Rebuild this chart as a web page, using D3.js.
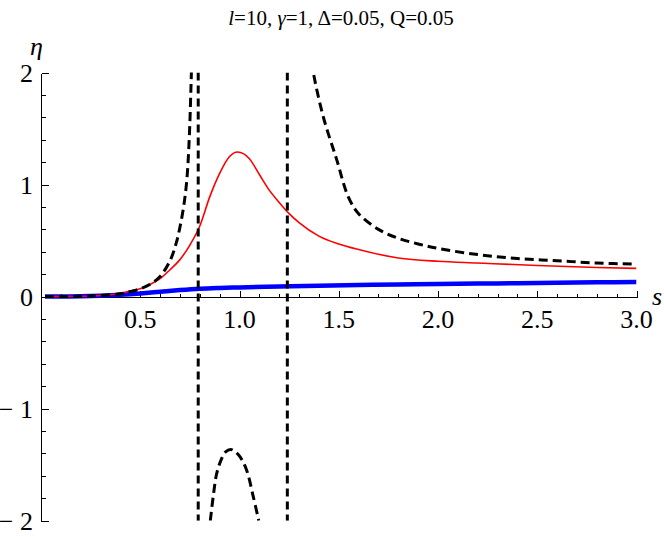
<!DOCTYPE html>
<html>
<head>
<meta charset="utf-8">
<script src="https://cdn.jsdelivr.net/npm/d3@7"></script>
<style>
  body { margin: 0; background: #fff; }
</style>
</head>
<body>
<svg id="plot" width="664" height="537"></svg>
<script>
// values
const blueS   = [0.02, 0.1, 0.2, 0.3, 0.4, 0.5, 0.6, 0.7, 0.8, 0.9, 1.0, 1.2, 1.4, 1.6, 1.8, 2.0, 2.2, 2.4, 2.6, 2.8, 3.0];
const blueEta = [0, 0.001, 0.003, 0.008, 0.016, 0.028, 0.043, 0.058, 0.07, 0.077, 0.082, 0.09, 0.097, 0.103, 0.108, 0.112, 0.116, 0.12, 0.123, 0.127, 0.13];

const redS   = [0.02, 0.2, 0.3, 0.4, 0.45, 0.5, 0.55, 0.6, 0.65, 0.7, 0.75, 0.8, 0.85, 0.9, 0.95, 0.99, 1.05, 1.1, 1.15, 1.2, 1.25, 1.3, 1.4, 1.5, 1.6, 1.8, 2.0, 2.2, 2.5, 2.8, 3.0];
const redEta = [0, 0.003, 0.01, 0.03, 0.05, 0.07, 0.11, 0.16, 0.24, 0.33, 0.46, 0.63, 0.89, 1.10, 1.25, 1.29, 1.23, 1.09, 0.95, 0.84, 0.74, 0.66, 0.54, 0.47, 0.42, 0.345, 0.315, 0.30, 0.278, 0.26, 0.252];

// dashed curve, three visible branches
const leftS   = [0.02, 0.2, 0.3, 0.4, 0.45, 0.5, 0.55, 0.6, 0.65, 0.68, 0.7, 0.72, 0.735, 0.747, 0.756, 0.762];
const leftEta = [0, 0.003, 0.01, 0.025, 0.045, 0.07, 0.11, 0.18, 0.32, 0.47, 0.62, 0.82, 1.05, 1.42, 1.9, 2.3];
const midS    = [0.853, 0.87, 0.885, 0.91, 0.93, 0.955, 0.975, 1.003, 1.036, 1.07, 1.097];
const midEta  = [-2.0, -1.75, -1.58, -1.445, -1.385, -1.364, -1.38, -1.43, -1.55, -1.79, -2.0];
const rightS   = [1.365, 1.372, 1.422, 1.49, 1.548, 1.6, 1.7, 1.8, 1.9, 2.0, 2.2, 2.4, 2.6, 2.8, 3.0];
const rightEta = [2.1, 2.0, 1.605, 1.22, 0.89, 0.74, 0.60, 0.52, 0.47, 0.43, 0.375, 0.34, 0.32, 0.30, 0.29];

const asymS = [0.792, 1.241];

const xMajor = [0.5, 1.0, 1.5, 2.0, 2.5, 3.0];
const yMajor = [-2, -1, 0, 1, 2];

const serif = '"Liberation Serif", "Times New Roman", serif';

const svg = d3.select("#plot");
const x = d3.scaleLinear().domain([0, 3]).range([41, 636.5]);
const y = d3.scaleLinear().domain([-2, 2]).range([520.7, 72.5]);
const px = v => Math.round(v) + 0.5;   // snap 1px lines to the pixel grid

svg.append("defs").append("clipPath").attr("id", "clip")
   .append("rect")
   .attr("x", x(0)).attr("y", y(2))
   .attr("width", x(3) - x(0)).attr("height", y(-2) - y(2));

// title
svg.append("text")
   .attr("x", 341).attr("y", 25)
   .attr("text-anchor", "middle")
   .style("font-family", serif)
   .style("font-size", "21px")
   .html('<tspan font-style="italic">l</tspan>=10, <tspan font-style="italic">γ</tspan>=1, Δ=0.05, Q=0.05');

// axes
const axes = svg.append("g").attr("shape-rendering", "crispEdges");
axes.append("line").attr("x1", px(x(0))).attr("x2", px(x(3))).attr("y1", px(y(0))).attr("y2", px(y(0)))
    .attr("stroke", "#000").attr("stroke-width", 1);
axes.append("line").attr("x1", px(x(0))).attr("x2", px(x(0))).attr("y1", px(y(2))).attr("y2", px(y(-2)))
    .attr("stroke", "#000").attr("stroke-width", 1);

const xMinor = d3.range(1, 31).map(d => d / 10).filter(d => Math.abs(d * 2 - Math.round(d * 2)) > 1e-6);
const yMinor = d3.range(-10, 11).map(d => d / 5).filter(d => Math.abs(d - Math.round(d)) > 1e-6);

const xTicks = xMinor.map(d => [d, 4]).concat(xMajor.map(d => [d, 7]));
const yTicks = yMinor.map(d => [d, 4]).concat(yMajor.map(d => [d, 7]));

axes.selectAll("line.xtick").data(xTicks).join("line")
    .attr("class", "xtick")
    .attr("x1", d => px(x(d[0]))).attr("x2", d => px(x(d[0])))
    .attr("y1", px(y(0))).attr("y2", d => px(y(0)) - d[1])
    .attr("stroke", "#000").attr("stroke-width", 1);

axes.selectAll("line.ytick").data(yTicks).join("line")
    .attr("class", "ytick")
    .attr("x1", px(x(0))).attr("x2", d => px(x(0)) + d[1])
    .attr("y1", d => px(y(d[0]))).attr("y2", d => px(y(d[0])))
    .attr("stroke", "#000").attr("stroke-width", 1);

// tick labels
svg.selectAll("text.xlab").data(xMajor).join("text")
   .attr("class", "xlab")
   .attr("x", d => x(d)).attr("y", y(0) + 31)
   .attr("text-anchor", "middle")
   .style("font-family", serif)
   .style("font-size", "26px")
   .text(d => d.toFixed(1));

svg.selectAll("text.ylab").data(yMajor).join("text")
   .attr("class", "ylab")
   .attr("x", 33).attr("y", d => y(d) + 9)
   .attr("text-anchor", "end")
   .style("font-family", serif)
   .style("font-size", "26px")
   .text(d => d < 0 ? "\u2212 " + (-d) : d);

// axis labels
svg.append("text").attr("x", 30).attr("y", 55).style("font-family", serif)
   .style("font-size", "26px").style("font-style", "italic").text("η");
svg.append("text").attr("x", 652).attr("y", 305).style("font-family", serif)
   .style("font-size", "26px").style("font-style", "italic").text("s");

// curves
const plot = svg.append("g").attr("clip-path", "url(#clip)");
const line = d3.line().x(d => x(d[0])).y(d => y(d[1])).curve(d3.curveMonotoneX);
const pairs = (a, b) => a.map((v, i) => [v, b[i]]);

plot.append("path").attr("d", line(pairs(blueS, blueEta)))
    .attr("fill", "none").attr("stroke", "#0000ff").attr("stroke-width", 4.5);

plot.append("path").attr("d", line(pairs(redS, redEta)))
    .attr("fill", "none").attr("stroke", "#ff0000").attr("stroke-width", 1.6);

[pairs(leftS, leftEta), pairs(midS, midEta), pairs(rightS, rightEta)].forEach(function(b) {
    plot.append("path").attr("d", d3.line().x(d => x(d[0])).y(d => y(d[1])).curve(d3.curveCatmullRom)(b))
        .attr("fill", "none").attr("stroke", "#000").attr("stroke-width", 3)
        .attr("stroke-dasharray", "9,5");
});

plot.selectAll("line.asym").data(asymS).join("line")
    .attr("class", "asym")
    .attr("x1", d => x(d)).attr("x2", d => x(d))
    .attr("y1", y(2)).attr("y2", y(-2))
    .attr("stroke", "#000").attr("stroke-width", 3)
    .attr("stroke-dasharray", "8,5");
</script>
</body>
</html>
